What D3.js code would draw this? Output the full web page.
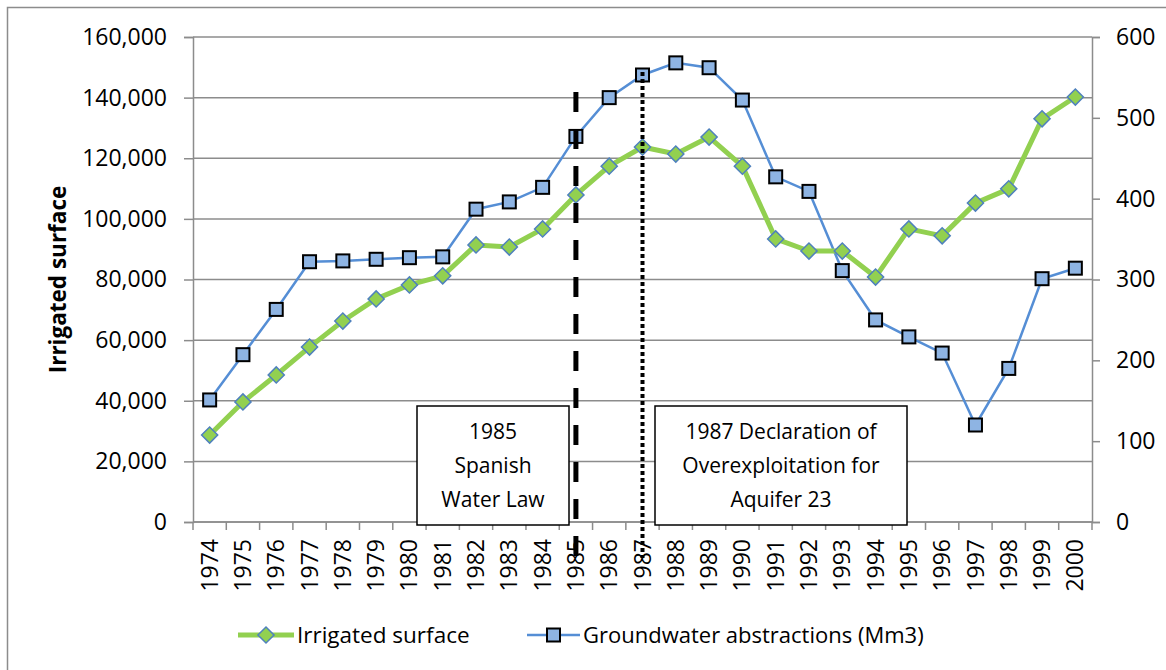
<!DOCTYPE html>
<html>
<head>
<meta charset="utf-8">
<script src="https://cdn.jsdelivr.net/npm/d3@7"></script>
<style>
  body { margin: 0; background: #fff; }
  svg { font-family: "Open Sans", "Noto Sans", sans-serif; }
</style>
</head>
<body>
<div class="chart"></div>
<script>
var years = ["1974","1975","1976","1977","1978","1979","1980","1981","1982","1983","1984","1985","1986","1987",
             "1988","1989","1990","1991","1992","1993","1994","1995","1996","1997","1998","1999","2000"];

// irrigated surface (left axis)
var irrigated = [28700, 39600, 48500, 57700, 66300, 73600, 78200, 81200, 91400, 90700, 96700, 107900, 117400, 123700,
                 121400, 127000, 117400, 93400, 89400, 89400, 80800, 96700, 94400, 105200, 109900, 133000, 140200];

// groundwater abstractions, Mm3 (right axis)
var groundwater = [151, 207, 263, 322, 323, 325, 327, 328, 387, 396, 414, 477, 525, 553,
                   568, 562, 522, 427, 409, 311, 250, 229, 209, 120, 190, 301, 314];

var leftTicks = [0, 20000, 40000, 60000, 80000, 100000, 120000, 140000, 160000];
var rightTicks = [0, 100, 200, 300, 400, 500, 600];

var events = [
    { year: "1985", style: "dash", lines: ["1985", "Spanish", "Water Law"] },
    { year: "1987", style: "dot", lines: ["1987 Declaration of", "Overexploitation for", "Aquifer 23"] }
];

var width = 1166, height = 670;
var m = { left: 193, right: 1092, top: 37, bottom: 522 };

var svg = d3.select(".chart").append("svg")
    .attr("width", width)
    .attr("height", height);

// outer frame
svg.append("rect")
    .attr("x", 7.5).attr("y", 7.5)
    .attr("width", width + 20).attr("height", height + 20)
    .attr("fill", "none")
    .attr("stroke", "#8c8c8c")
    .attr("stroke-width", 1.5);

var x = d3.scaleBand().domain(years).range([m.left, m.right]);
var yL = d3.scaleLinear().domain([0, 160000]).range([m.bottom, m.top]);
var yR = d3.scaleLinear().domain([0, 600]).range([m.bottom, m.top]);

var fmt = d3.format(",");

    //gridlines
svg.append("g")
    .selectAll("line")
    .data(leftTicks)
    .enter().append("line")
    .attr("x1", m.left).attr("x2", m.right)
    .attr("y1", function (d) { return yL(d); })
    .attr("y2", function (d) { return yL(d); })
    .attr("stroke", "#8c8c8c")
    .attr("stroke-width", 1.5);

    //left axis
var gL = svg.append("g")
    .attr("transform", "translate(" + m.left + ",0)")
    .call(d3.axisLeft(yL).tickValues(leftTicks).tickFormat(fmt).tickSize(9).tickPadding(17));

    //right axis
var gR = svg.append("g")
    .attr("transform", "translate(" + m.right + ",0)")
    .call(d3.axisRight(yR).tickValues(rightTicks).tickSize(8).tickPadding(16));

    //x axis
var gX = svg.append("g")
    .attr("transform", "translate(0," + m.bottom + ")")
    .call(d3.axisBottom(x).tickSize(0).tickPadding(0));

gX.selectAll(".tick text")
    .attr("transform", "rotate(-90)")
    .attr("x", -17).attr("y", 0).attr("dy", "0.35em")
    .attr("text-anchor", "end");

// x tick marks at category boundaries
gX.append("g")
    .selectAll("line")
    .data(years.concat(["end"]))
    .enter().append("line")
    .attr("x1", function (d, i) { return m.left + i * x.step(); })
    .attr("x2", function (d, i) { return m.left + i * x.step(); })
    .attr("y1", 0).attr("y2", 8)
    .attr("stroke", "#8c8c8c")
    .attr("stroke-width", 1.5);

[gL, gR, gX].forEach(function (g) {
    g.selectAll(".domain").attr("stroke", "#8c8c8c").attr("stroke-width", 1.5);
    g.selectAll(".tick line").attr("stroke", "#8c8c8c").attr("stroke-width", 1.5);
    g.selectAll("text").attr("fill", "#000").style("font-size", "23px").style("font-family", "Open Sans, sans-serif");
});
gX.select(".domain").attr("d", "M" + m.left + ",0H" + m.right);

    //y title
svg.append("text")
    .attr("transform", "translate(58," + ((m.top + m.bottom) / 2) + ") rotate(-90)")
    .attr("text-anchor", "middle")
    .attr("dy", "0.35em")
    .style("font-size", "22.5px")
    .style("font-weight", "bold")
    .text("Irrigated surface");

var cx = function (d, i) { return x(years[i]) + x.bandwidth() / 2; };

    //groundwater line
svg.append("path")
    .datum(groundwater)
    .attr("fill", "none")
    .attr("stroke", "#558ed5")
    .attr("stroke-width", 2.5)
    .attr("d", d3.line().x(cx).y(function (d) { return yR(d); }));

svg.append("g")
    .selectAll("rect")
    .data(groundwater)
    .enter().append("rect")
    .attr("x", function (d, i) { return cx(d, i) - 6.5; })
    .attr("y", function (d) { return yR(d) - 6.5; })
    .attr("width", 13).attr("height", 13)
    .attr("fill", "#8eb4e3")
    .attr("stroke", "#000")
    .attr("stroke-width", 2);

    //irrigated line
svg.append("path")
    .datum(irrigated)
    .attr("fill", "none")
    .attr("stroke", "#92d050")
    .attr("stroke-width", 5)
    .attr("stroke-linejoin", "round")
    .attr("d", d3.line().x(cx).y(function (d) { return yL(d); }));

var diamond = d3.symbol().type(d3.symbolSquare).size(130);
svg.append("g")
    .selectAll("path")
    .data(irrigated)
    .enter().append("path")
    .attr("transform", function (d, i) { return "translate(" + cx(d, i) + "," + yL(d) + ") rotate(45)"; })
    .attr("d", diamond)
    .attr("fill", "#92d050")
    .attr("stroke", "#4f81bd")
    .attr("stroke-width", 1.5);

    //event boxes
var boxes = [{ x0: 417, x1: 569 }, { x0: 655, x1: 907 }];
events.forEach(function (e, k) {
    var b = boxes[k];
    svg.append("rect")
        .attr("x", b.x0).attr("y", 406)
        .attr("width", b.x1 - b.x0).attr("height", 119)
        .attr("fill", "#fff")
        .attr("stroke", "#000")
        .attr("stroke-width", 1.5);
    svg.append("g").selectAll("text")
        .data(e.lines)
        .enter().append("text")
        .attr("x", (b.x0 + b.x1) / 2)
        .attr("y", function (d, i) { return 439 + i * 34; })
        .attr("text-anchor", "middle")
        .style("font-size", "21px")
        .text(function (d) { return d; });
});

    //event lines
events.forEach(function (e) {
    var xv = x(e.year) + x.bandwidth() / 2;
    svg.append("line")
        .attr("x1", xv).attr("x2", xv)
        .attr("y1", e.style == "dash" ? 92 : 72)
        .attr("y2", 558)
        .attr("stroke", "#000")
        .attr("stroke-width", e.style == "dash" ? 5 : 4)
        .attr("stroke-dasharray", e.style == "dash" ? "20,17" : "4,3");
});

    //legend
var lg = svg.append("g").attr("transform", "translate(0,635)");
lg.append("line").attr("x1", 238).attr("x2", 294).attr("stroke", "#92d050").attr("stroke-width", 5);
lg.append("path").attr("transform", "translate(266,0) rotate(45)").attr("d", diamond)
    .attr("fill", "#92d050").attr("stroke", "#4f81bd").attr("stroke-width", 1.5);
lg.append("text").attr("x", 297).attr("dy", "0.35em").style("font-size", "22.5px").text("Irrigated surface");

lg.append("line").attr("x1", 527).attr("x2", 580).attr("stroke", "#558ed5").attr("stroke-width", 2.5);
lg.append("rect").attr("x", 547).attr("y", -6.5).attr("width", 13).attr("height", 13)
    .attr("fill", "#8eb4e3").attr("stroke", "#000").attr("stroke-width", 2);
lg.append("text").attr("x", 583).attr("dy", "0.35em").style("font-size", "22px").text("Groundwater abstractions (Mm3)");
</script>
</body>
</html>
